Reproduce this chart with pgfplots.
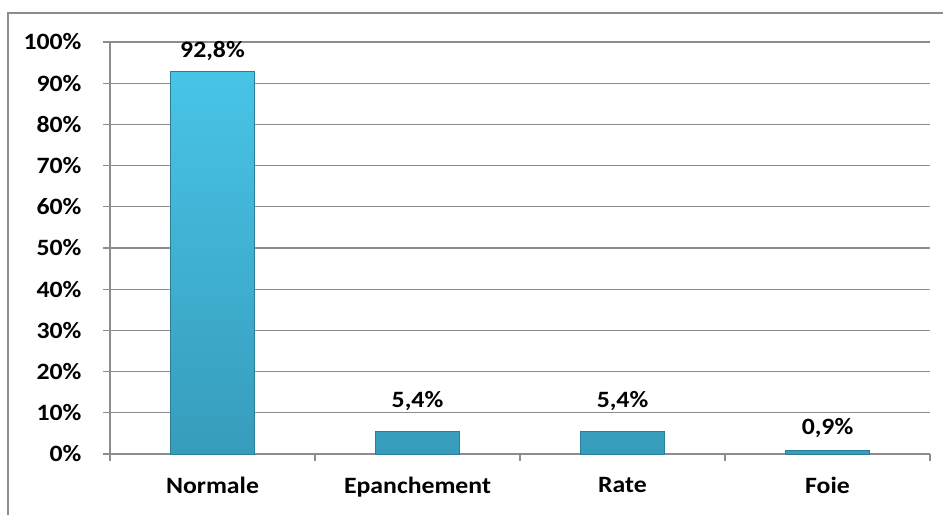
\documentclass[border=0pt]{standalone}
\usepackage{fontspec}
\setmainfont{Carlito}[FakeStretch=1.1]
\usepackage{pgfplots}
\usepackage{pgfplotstable}
\pgfplotsset{compat=1.18}

\definecolor{gridgray}{HTML}{8C8C8C}
\definecolor{bartop}{HTML}{48C4E7}
\definecolor{barbottom}{HTML}{379CBC}
\definecolor{baredge}{HTML}{2A7E98}

% category index, share (%), label lift (bp)
\pgfplotstableread{
x  y     lift
0  92.8  0
1  5.4   10
2  5.4   10
3  0.9   2
}\echodata

\begin{document}
\begin{tikzpicture}[x=1bp,y=1bp]
  \useasboundingbox (0,0) rectangle (943,515);
  % outer frame
  \draw[gridgray, line width=1.4bp] (8,0) -- (8,502) -- (943,502);
  \begin{axis}[
    at={(110bp,61bp)}, anchor=south west,
    scale only axis,
    width=820bp, height=412bp,
    xmin=-0.5, xmax=3.5,
    ymin=0, ymax=100,
    axis lines*=left,
    axis line style={gridgray, line width=1.2bp},
    ytick={0,10,...,100},
    yticklabels={0\%,10\%,20\%,30\%,40\%,50\%,60\%,70\%,80\%,90\%,100\%},
    ymajorgrids,
    grid style={gridgray, line width=1.2bp},
    tick align=outside,
    major tick length=7bp,
    tick style={gridgray, line width=1.2bp},
    xtick={0,1,2,3},
    xticklabels={Normale,Epanchement,Rate,Foie},
    xtick style={draw=none},
    extra x ticks={-0.5,0.5,1.5,2.5,3.5},
    extra x tick labels={},
    extra x tick style={xtick style={draw=gridgray}, grid=none},
    tick label style={font=\bfseries\fontsize{23.5}{28}\selectfont, text=black},
    yticklabel style={xshift=-18bp},
    xticklabel style={yshift=-13bp},
    /pgf/number format/assume math mode=true,
    clip=false,
  ]
    \addplot[
      ybar, bar width=84bp, bar shift=0pt,
      top color=bartop, bottom color=barbottom,
      draw=baredge, line width=0.8bp,
      visualization depends on={\thisrow{lift} \as \lift},
      nodes near coords={\pgfmathprintnumber[fixed, fixed zerofill, precision=1, use comma]{\pgfplotspointmeta}\%},
      every node near coord/.append style={font=\bfseries\fontsize{23.5}{28}\selectfont, text=black, yshift=7bp+\lift bp},
    ] table[x=x, y=y] {\echodata};
  \end{axis}
\end{tikzpicture}
\end{document}
